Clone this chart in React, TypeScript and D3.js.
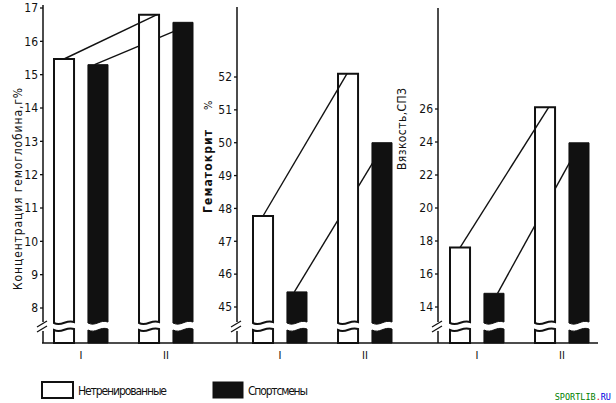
import React from "react";
import * as d3 from "d3";

// ---- data ----
const categories = ["I", "II"];
const seriesNames = ["Нетренированные", "Спортсмены"];

const hemoglobinUntrained = [15.47, 16.8];
const hemoglobinAthletes = [15.3, 16.57];
const hematocritUntrained = [47.77, 52.1];
const hematocritAthletes = [45.46, 50.0];
const viscosityUntrained = [17.6, 26.1];
const viscosityAthletes = [14.83, 23.95];

const hemoglobinTicks = [8, 9, 10, 11, 12, 13, 14, 15, 16, 17];
const hematocritTicks = [45, 46, 47, 48, 49, 50, 51, 52];
const viscosityTicks = [14, 16, 18, 20, 22, 24, 26];

// value where the athletes' connecting line meets bar II
const athletesLinkEnd = [16.3, 49.4, 22.8];

const FONT = "'Liberation Sans Narrow', 'DejaVu Sans Condensed', 'Arial Narrow', sans-serif";

type Panel = {
  title: string;
  titleExtra?: string;
  untrained: number[];
  athletes: number[];
  ticks: number[];
  domain: [number, number];
  range: [number, number];
  axisX: number;
  axisTop: number;
  barsX0: number;
  titleX: number;
  titleY0: number;
  titleY1: number;
  whiteEndFrac: number;
  blackStartFrac: number;
  linkEnd: number;
};

const panels: Panel[] = [
  {
    title: "Концентрация гемоглобина,г%",
    untrained: hemoglobinUntrained,
    athletes: hemoglobinAthletes,
    ticks: hemoglobinTicks,
    domain: [8, 17],
    range: [308, 8],
    axisX: 43,
    axisTop: 5,
    barsX0: 54,
    titleX: 22,
    titleY0: 290,
    titleY1: 88,
    whiteEndFrac: 0.9,
    blackStartFrac: 0.33,
    linkEnd: athletesLinkEnd[0],
  },
  {
    title: "Гематокрит",
    titleExtra: "%",
    untrained: hematocritUntrained,
    athletes: hematocritAthletes,
    ticks: hematocritTicks,
    domain: [45, 52],
    range: [307, 77],
    axisX: 237,
    axisTop: 7,
    barsX0: 253,
    titleX: 212,
    titleY0: 213,
    titleY1: 130,
    whiteEndFrac: 0.45,
    blackStartFrac: 0.37,
    linkEnd: athletesLinkEnd[1],
  },
  {
    title: "Вязкость,СПЗ",
    untrained: viscosityUntrained,
    athletes: viscosityAthletes,
    ticks: viscosityTicks,
    domain: [14, 26],
    range: [307, 109],
    axisX: 438,
    axisTop: 8,
    barsX0: 450,
    titleX: 406,
    titleY0: 170,
    titleY1: 88,
    whiteEndFrac: 0.68,
    blackStartFrac: 0.68,
    linkEnd: athletesLinkEnd[2],
  },
];

const BASE = 343;
const YB = 323;
const GAP = 7;

function upperPath(x: number, w: number, yTop: number) {
  return `M${x},${YB} V${yTop} H${x + w} V${YB - 1} C${x + w * 0.6},${YB - 4} ${x + w * 0.4},${YB + 4} ${x},${YB} Z`;
}
function lowerPath(x: number, w: number) {
  const y = YB + GAP;
  return `M${x},${BASE} V${y} C${x + w * 0.4},${y + 4} ${x + w * 0.6},${y - 4} ${x + w},${y - 1} V${BASE} Z`;
}

function PanelView({ p }: { p: Panel }) {
  const y = d3.scaleLinear().domain(p.domain).range(p.range);
  const group = d3
    .scaleBand<string>()
    .domain(categories)
    .range([p.barsX0, p.barsX0 + 139])
    .paddingInner(0.365)
    .paddingOuter(0);
  const inner = d3
    .scaleBand<string>()
    .domain(seriesNames)
    .range([0, group.bandwidth()])
    .paddingInner(0.41)
    .paddingOuter(0);
  const bw = inner.bandwidth();
  const xOf = (cat: string, s: string) => (group(cat) as number) + (inner(s) as number);

  const wI = xOf(categories[0], seriesNames[0]);
  const wII = xOf(categories[1], seriesNames[0]);
  const bI = xOf(categories[0], seriesNames[1]);
  const bII = xOf(categories[1], seriesNames[1]);

  const line = d3.line<[number, number]>();
  const whiteLink = line([
    [wI + bw / 2, y(p.untrained[0])],
    [wII + bw * p.whiteEndFrac, y(p.untrained[1])],
  ]);
  const blackLink = line([
    [bI + bw * p.blackStartFrac, y(p.athletes[0])],
    [bII + 1, y(p.linkEnd)],
  ]);

  const ax = p.axisX;
  return (
    <g>
      {/* axis */}
      <line x1={ax} x2={ax} y1={p.axisTop} y2={YB - 1} stroke="#111" strokeWidth={1.5} />
      <line x1={ax} x2={ax} y1={YB + 8} y2={BASE} stroke="#111" strokeWidth={1.5} />
      <line x1={ax - 6} y1={YB + 4} x2={ax + 4} y2={YB - 2} stroke="#111" strokeWidth={1.3} />
      <line x1={ax - 6} y1={YB + 9} x2={ax + 4} y2={YB + 3} stroke="#111" strokeWidth={1.3} />
      {p.ticks.map((t) => (
        <g key={t}>
          <line x1={ax - 3} x2={ax} y1={y(t)} y2={y(t)} stroke="#111" strokeWidth={1.3} />
          <text
            x={ax - 5}
            y={y(t)}
            dy="0.36em"
            textAnchor="end"
            fontFamily={FONT}
            fontSize={12}
            fill="#111"
          >
            {t}
          </text>
        </g>
      ))}
      {/* title */}
      <text
        transform={`translate(${p.titleX},${p.titleY0}) rotate(-90)`}
        fontFamily={FONT}
        fontSize={12}
        fontWeight={p.titleExtra ? "bold" : "normal"}
        fill="#111"
        textLength={p.titleY0 - p.titleY1}
        lengthAdjust="spacing"
      >
        {p.title}
      </text>
      {p.titleExtra && (
        <text
          transform={`translate(${p.titleX},${p.titleY1 - 20}) rotate(-90)`}
          fontFamily={FONT}
          fontSize={11}
          fill="#111"
        >
          {p.titleExtra}
        </text>
      )}
      {/* athletes link (behind bars) */}
      <path d={blackLink || ""} stroke="#111" strokeWidth={1.4} fill="none" />
      {/* bars */}
      {categories.map((c, i) => {
        const xw = xOf(c, seriesNames[0]);
        const xb = xOf(c, seriesNames[1]);
        return (
          <g key={c}>
            <path d={upperPath(xw, bw, y(p.untrained[i]))} fill="#fff" stroke="#111" strokeWidth={2} />
            <path d={lowerPath(xw, bw)} fill="#fff" stroke="#111" strokeWidth={2} />
            <path d={upperPath(xb, bw, y(p.athletes[i]))} fill="#111" stroke="#111" strokeWidth={1} />
            <path d={lowerPath(xb, bw)} fill="#111" stroke="#111" strokeWidth={1} />
            <text
              x={(group(c) as number) + group.bandwidth() / 2}
              y={359}
              textAnchor="middle"
              fontFamily={FONT}
              fontSize={11}
              fill="#111"
            >
              {c}
            </text>
          </g>
        );
      })}
      {/* untrained link (on top) */}
      <path d={whiteLink || ""} stroke="#111" strokeWidth={1.4} fill="none" />
    </g>
  );
}

export default function App() {
  return (
    <svg
      width={616}
      height={403}
      viewBox="0 0 616 403"
      style={{ position: "absolute", left: 0, top: 0, background: "#fff" }}
    >
      <rect x={0} y={0} width={616} height={403} fill="#fff" />
      {/* baseline */}
      <line x1={42} x2={598} y1={BASE} y2={BASE} stroke="#111" strokeWidth={1.6} />
      {panels.map((p, i) => (
        <PanelView key={i} p={p} />
      ))}
      {/* legend */}
      <rect x={42} y={382} width={31} height={16} fill="#fff" stroke="#111" strokeWidth={2} />
      <text x={78} y={395} fontFamily={FONT} fontSize={12} fill="#111" textLength={89} lengthAdjust="spacing">
        {seriesNames[0]}
      </text>
      <rect x={213} y={382} width={30} height={16} fill="#111" stroke="#111" strokeWidth={1} />
      <text x={248} y={395} fontFamily={FONT} fontSize={12} fill="#111" textLength={60} lengthAdjust="spacing">
        {seriesNames[1]}
      </text>
      {/* watermark */}
      <text
        x={611}
        y={400}
        textAnchor="end"
        fontFamily="'DejaVu Sans Mono', monospace"
        fontSize={8.5}
        fill="#008000"
      >
        SPORTLIB<tspan fill="#e00000">.</tspan>
        <tspan fill="#0000e0">RU</tspan>
      </text>
    </svg>
  );
}
